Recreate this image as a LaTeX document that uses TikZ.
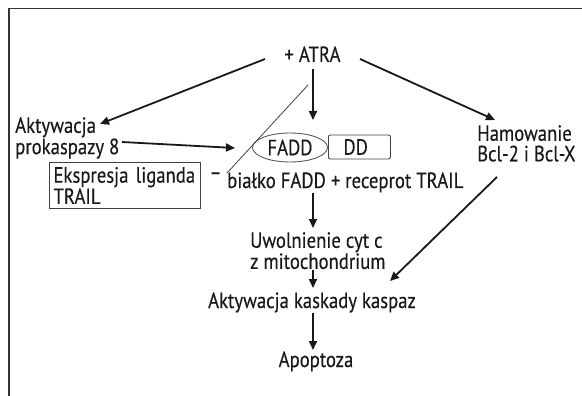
\documentclass[tikz,border=0pt]{standalone}
\usepackage{fontspec}
\setmainfont{PT Sans}[FakeStretch=0.85,FakeBold=0.3]
\usetikzlibrary{arrows.meta,calc,shapes.geometric}
\begin{document}
\begin{tikzpicture}[x=1pt,y=-1pt,
  every node/.style={inner sep=0pt,text=black!90,font=\fontsize{22}{19}\selectfont},
  arr/.style={line width=1.8pt,black!90,-{Triangle[length=9pt,width=8pt]}},
  lbl/.style={align=left}]
\useasboundingbox (0,0) rectangle (582,396);
\draw[line width=1.4pt,black!80] (9,396) -- (9,8.5) -- (582,8.5);

\node[anchor=base] (atra) at (312.5,62) {+ ATRA};
\node[lbl,anchor=north west] (akt) at (15,117) {Aktywacja\\prokaspazy 8};
\node[draw=black!65,line width=0.9pt,ellipse,minimum width=75pt,minimum height=29pt] (fadd) at (290,147.5) {FADD};
\node[draw=black!75,line width=0.9pt,rounded corners=2pt,anchor=west,align=left,text width=32pt,inner xsep=15pt,minimum height=24pt] (dd) at (328,147) {DD};
\node[lbl,anchor=north west,font=\fontsize{22}{20.5}\selectfont] (ham) at (477,125) {Hamowanie\\Bcl-2 i Bcl-X};
\node[draw=black!75,line width=1pt,align=left,text width=143pt,inner xsep=4pt,minimum height=46pt,anchor=north west] (eks) at (49,162) {Ekspresja liganda\\TRAIL};
\node (dash) at (215.5,176) {–};
\node[anchor=base west] (bialko) at (227,188) {białko FADD + receprot TRAIL};
\node[lbl,anchor=north west] (uwol) at (250,232) {Uwolnienie cyt c\\z mitochondrium};
\node[anchor=base] (kask) at (312,308) {Aktywacja kaskady kaspaz};
\node[anchor=base] (apop) at (316,367) {Apoptoza};

\draw[line width=0.8pt,black!75] ($(fadd.center)+(18,-62.5)$) -- ($(fadd.center)+(-63,25.5)$);

\draw[arr] ($(atra.base)+(-47.5,-3)$) -- ($(akt.north west)+(85,7)$);
\draw[arr] ($(atra.base)+(0.5,7)$) -- ($(fadd.center)+(23,-27.5)$);
\draw[arr] ($(atra.base)+(47.5,-3)$) -- ($(ham.north west)+(18,-5)$);
\draw[arr] ($(akt.north west)+(107,25)$) -- ($(fadd.center)+(-55,0.5)$);
\draw[arr] ($(bialko.base west)+(86,5)$) -- ($(uwol.north west)+(63,-4)$);
\draw[arr] ($(uwol.north west)+(63,38)$) -- ($(kask.base)+(1,-20)$);
\draw[arr] ($(ham.north west)+(20,52)$) -- ($(kask.base)+(78,-27)$);
\draw[arr] ($(kask.base)+(1,5)$) -- ($(apop.base)+(-3,-17)$);
\end{tikzpicture}
\end{document}
